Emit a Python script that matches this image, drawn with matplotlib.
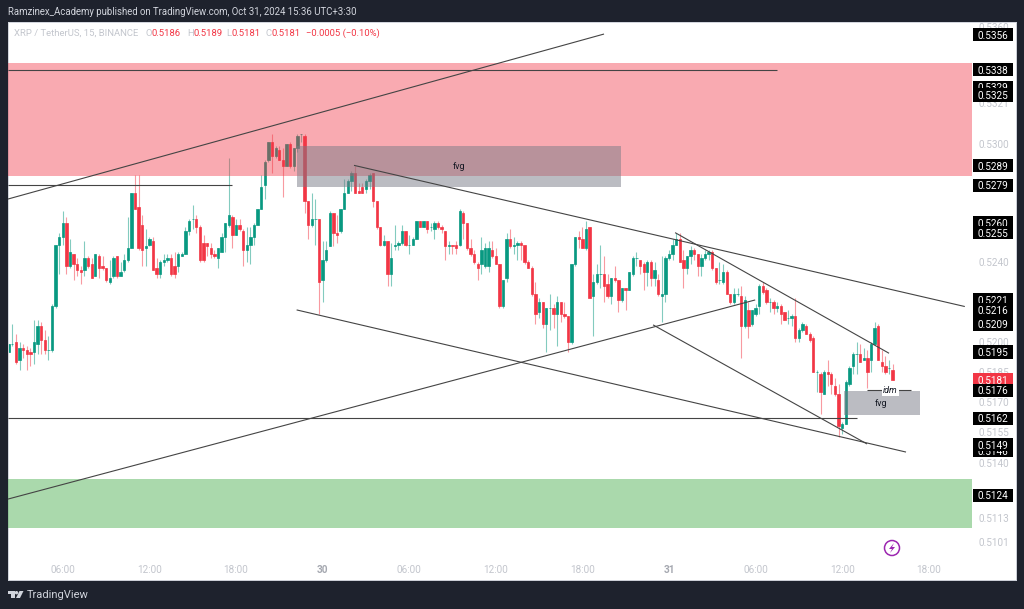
import matplotlib
matplotlib.use('Agg')
import matplotlib.pyplot as plt
from matplotlib.patches import Rectangle, Circle, Polygon
from matplotlib.transforms import Affine2D
from matplotlib.ticker import NullLocator

# 15 min candles, in 1/10000 USDT
opens = [5195,5199,5200,5191,5197,5196,5195,5195,5199,5208,
         5201,5196,5196,5218,5249,5253,5260,5238,5244,5239,
         5236,5236,5242,5239,5233,5243,5238,5237,5230,5233,
         5243,5233,5236,5241,5247,5275,5268,5259,5247,5249,
         5251,5237,5234,5240,5241,5242,5238,5238,5243,5244,
         5256,5262,5262,5258,5250,5250,5247,5244,5242,5245,
         5253,5259,5263,5254,5259,5256,5246,5249,5253,5259,
         5267,5279,5292,5301,5294,5297,5292,5289,5300,5289,
         5298,5305,5304,5271,5259,5262,5262,5231,5241,5248,
         5265,5255,5256,5267,5275,5281,5285,5276,5278,5277,
         5281,5285,5271,5258,5249,5251,5234,5248,5249,5250,
         5256,5249,5249,5252,5261,5258,5261,5258,5257,5260,
         5258,5256,5248,5249,5249,5249,5265,5260,5247,5244,
         5239,5239,5238,5238,5246,5243,5239,5218,5232,5252,
         5248,5249,5250,5249,5240,5237,5224,5215,5220,5209,
         5217,5217,5214,5220,5214,5213,5200,5239,5253,5252,
         5247,5258,5223,5230,5234,5234,5229,5223,5232,5231,
         5221,5227,5226,5234,5242,5241,5239,5235,5240,5232,
         5231,5223,5224,5242,5244,5249,5252,5241,5237,5243,
         5246,5244,5238,5242,5244,5245,5237,5231,5230,5235,
         5224,5220,5224,5223,5208,5216,5209,5214,5218,5228,
         5226,5220,5220,5217,5218,5215,5212,5212,5213,5202,
         5206,5208,5204,5202,5185,5184,5174,5185,5184,5178,
         5174,5157,5159,5179,5188,5194,5194,5191,5192,5191,
         5199,5208,5190,5188,5187,5186]
closes = [5199,5199,5190,5197,5196,5194,5194,5200,5208,5201,
          5196,5196,5218,5249,5253,5260,5238,5245,5239,5236,
          5235,5242,5238,5232,5244,5237,5237,5231,5232,5242,
          5233,5235,5241,5247,5275,5267,5247,5246,5248,5252,
          5236,5234,5240,5241,5242,5234,5234,5244,5244,5256,
          5261,5262,5258,5241,5241,5248,5244,5243,5247,5253,
          5260,5264,5254,5259,5257,5246,5249,5253,5259,5267,
          5278,5291,5301,5294,5298,5292,5289,5300,5289,5298,
          5304,5305,5271,5259,5262,5262,5230,5241,5246,5265,
          5255,5254,5267,5275,5281,5285,5275,5275,5275,5281,
          5284,5271,5258,5249,5251,5234,5242,5249,5250,5256,
          5249,5249,5252,5261,5258,5261,5257,5258,5260,5258,
          5257,5248,5249,5248,5247,5266,5260,5247,5244,5240,
          5237,5246,5247,5247,5243,5239,5218,5231,5252,5248,
          5249,5250,5249,5240,5237,5224,5214,5220,5209,5217,
          5217,5214,5220,5214,5213,5200,5239,5253,5252,5247,
          5257,5222,5230,5234,5234,5228,5223,5232,5231,5221,
          5227,5226,5235,5242,5242,5238,5235,5240,5232,5236,
          5224,5224,5242,5244,5249,5252,5240,5237,5243,5246,
          5244,5238,5242,5244,5245,5237,5230,5231,5235,5224,
          5220,5224,5224,5208,5221,5208,5216,5217,5228,5225,
          5220,5220,5217,5218,5214,5211,5212,5213,5202,5206,
          5209,5204,5201,5185,5185,5175,5185,5184,5179,5174,
          5158,5159,5180,5187,5194,5194,5190,5192,5185,5199,
          5207,5191,5188,5185,5187,5181]
highs = [5199,5209,5204,5200,5199,5198,5197,5211,5211,5210,
         5206,5203,5219,5249,5255,5266,5263,5252,5244,5242,
         5238,5251,5243,5242,5244,5244,5243,5237,5241,5243,
         5243,5240,5244,5263,5275,5284,5284,5264,5257,5253,
         5253,5242,5241,5244,5244,5244,5245,5245,5245,5258,
         5262,5269,5264,5259,5254,5250,5250,5246,5247,5255,
         5260,5293,5264,5262,5262,5257,5258,5258,5260,5267,
         5284,5292,5301,5305,5299,5299,5298,5300,5301,5298,
         5305,5305,5305,5271,5275,5272,5262,5251,5251,5266,
         5265,5264,5267,5282,5282,5286,5289,5280,5280,5282,
         5285,5285,5271,5258,5254,5251,5250,5259,5251,5259,
         5256,5254,5253,5261,5261,5261,5261,5260,5261,5261,
         5259,5256,5251,5249,5251,5267,5266,5260,5252,5246,
         5240,5253,5250,5251,5251,5247,5239,5231,5255,5257,
         5253,5251,5251,5249,5241,5238,5230,5222,5220,5217,
         5224,5219,5223,5220,5220,5213,5239,5253,5256,5258,
         5261,5258,5234,5239,5249,5243,5234,5232,5238,5231,
         5227,5227,5235,5243,5245,5241,5240,5241,5241,5240,
         5234,5243,5243,5246,5252,5255,5255,5246,5243,5248,
         5247,5244,5244,5246,5246,5246,5237,5240,5239,5236,
         5224,5227,5227,5228,5223,5220,5216,5219,5229,5230,
         5227,5222,5221,5220,5219,5215,5216,5214,5222,5207,
         5210,5209,5205,5203,5186,5185,5186,5191,5185,5182,
         5179,5160,5181,5188,5195,5200,5199,5197,5196,5200,
         5210,5209,5196,5193,5191,5189]
lows = [5195,5198,5189,5186,5192,5186,5188,5189,5194,5194,
        5194,5191,5195,5217,5234,5249,5234,5237,5231,5233,
        5229,5233,5237,5232,5233,5232,5236,5230,5229,5232,
        5232,5233,5235,5240,5247,5267,5246,5238,5238,5248,
        5236,5232,5232,5238,5240,5233,5232,5235,5243,5244,
        5254,5257,5255,5240,5240,5243,5242,5242,5237,5245,
        5245,5258,5247,5254,5256,5238,5240,5239,5249,5259,
        5267,5272,5291,5285,5293,5292,5273,5289,5288,5286,
        5296,5301,5265,5252,5258,5249,5214,5220,5240,5248,
        5248,5250,5255,5267,5275,5276,5275,5275,5275,5275,
        5277,5268,5257,5248,5248,5228,5228,5246,5246,5249,
        5248,5244,5249,5252,5258,5258,5255,5256,5252,5257,
        5255,5241,5244,5244,5244,5248,5252,5246,5243,5239,
        5231,5234,5237,5235,5242,5239,5217,5217,5230,5247,
        5244,5241,5241,5239,5237,5223,5209,5212,5207,5195,
        5206,5207,5198,5210,5212,5195,5199,5238,5247,5247,
        5246,5222,5203,5229,5227,5220,5222,5219,5230,5215,
        5220,5216,5226,5233,5238,5234,5226,5228,5228,5228,
        5223,5210,5220,5241,5241,5249,5240,5227,5234,5239,
        5241,5233,5233,5241,5241,5236,5229,5229,5229,5224,
        5219,5219,5223,5192,5207,5202,5208,5213,5214,5224,
        5219,5215,5214,5215,5209,5211,5209,5208,5200,5200,
        5205,5204,5200,5185,5175,5164,5174,5178,5174,5173,
        5153,5154,5159,5178,5184,5184,5190,5191,5177,5185,
        5199,5191,5185,5184,5184,5181]

# bar numbers of the axis labels, first candle is 02:15
time_ticks = [15, 39, 63, 87, 111, 135, 159, 183, 207, 231, 255]
time_labels = ['06:00', '12:00', '18:00', '30', '06:00', '12:00', '18:00', '31', '06:00', '12:00', '18:00']

price_ticks = [0.5360, 0.5321, 0.5300, 0.5240, 0.5200, 0.5185, 0.5170, 0.5155, 0.5140, 0.5113, 0.5101]
price_tags = [0.5356, 0.5338, 0.5329, 0.5325, 0.5289, 0.5279, 0.5260, 0.5255, 0.5221, 0.5216, 0.5209,
              0.5195, 0.5181, 0.5176, 0.5162, 0.5146, 0.5149, 0.5124]

# drawings: bar, price, bar, price
trend_lines = [(-0.2, 0.52720, 165.0, 0.53563),
               (95.7, 0.52891, 265.0, 0.52178),
               (79.8, 0.52161, 248.7, 0.51453),
               (-0.2, 0.51221, 206.9, 0.52211),
               (178.6, 0.52086, 237.9, 0.51493),
               (184.7, 0.52550, 244.0, 0.51944),
               (-0.2, 0.5338, 212.9, 0.5338),
               (-0.2, 0.5279, 61.9, 0.5279),
               (-0.2, 0.5162, 235.0, 0.5162),
               (237.8, 0.5176, 250.0, 0.5176)]
# bar left, bar right, price low, price high
supply_zone = (-1, 267, 0.52837, 0.53414)
demand_zone = (-1, 267, 0.51079, 0.51320)
fvg_zones = [(79.9, 169.7, 0.52779, 0.52990), (231.5, 252.6, 0.51637, 0.51758)]
fvg_labels = [(124.8, 0.52883), (241.8, 0.51696)]

GREEN = '#089981'
RED = '#f23645'
DARK = '#1e222d'
GREY = '#c3c6cd'
BAR_X0 = 8.7     # pixel of first candle
BAR_STEP = 3.608

W, H = 1024, 609
plt.rcParams['font.family'] = ['Roboto', 'DejaVu Sans']
fig = plt.figure(figsize=(W / 100, H / 100), dpi=100, facecolor=DARK)
px = Affine2D().scale(1, -1).translate(0, H)  # figure pixels, y from the top

ax = fig.add_axes([8 / W, (H - 580) / H, 1008 / W, 558 / H], facecolor='white')
ax.set_yscale('log')
ax.set_xlim((8 - BAR_X0) / BAR_STEP, (1016 - BAR_X0) / BAR_STEP)
ax.set_ylim(0.50824, 0.53625)

# candles
bars = range(len(opens))
for i in bars:
    col = GREEN if closes[i] >= opens[i] else RED
    ax.vlines(i, lows[i] / 10000, highs[i] / 10000, color=col, alpha=0.5, lw=0.8, zorder=2)
    ax.bar(i, abs(closes[i] - opens[i]) / 10000, bottom=min(opens[i], closes[i]) / 10000,
           width=0.65, color=col, edgecolor=col, lw=0.5, zorder=2.5)

# zones go over the candles, that's why candles look grey in them
for zone, col, a in [(supply_zone, RED, 0.42), (demand_zone, '#4caf50', 0.47)]:
    ax.add_patch(Rectangle((zone[0], zone[2]), zone[1] - zone[0], zone[3] - zone[2],
                           facecolor=col, alpha=a, lw=0, zorder=3))
for zone in fvg_zones:
    ax.add_patch(Rectangle((zone[0], zone[2]), zone[1] - zone[0], zone[3] - zone[2],
                           facecolor='#787b86', alpha=0.5, lw=0, zorder=3.2))
for x, y in fvg_labels:
    ax.text(x, y, 'fvg', fontsize=6.5, color='#131722', ha='center', va='center', zorder=5)

for x0, y0, x1, y1 in trend_lines:
    ax.plot([x0, x1], [y0, y1], color='#444444', lw=0.8, zorder=4, solid_capstyle='butt')
ax.text(244.3, 0.5176, 'idm', fontsize=6.5, style='italic', color='#131722', ha='center', va='center',
        zorder=5, bbox=dict(facecolor='white', edgecolor='none', pad=0.8))

# axis labels sit inside the panel like on tradingview
ax.set_xticks(time_ticks)
ax.set_xticklabels(time_labels)
ax.tick_params(axis='x', length=0, pad=-10.8, labelsize=7.2, labelcolor=GREY)
for lab in ax.get_xticklabels():
    if lab.get_text() in ('30', '31'):
        lab.set_fontweight('bold')
        lab.set_color('#a5a8b0')
ax.yaxis.tick_right()
ax.set_yticks(price_ticks)
ax.set_yticklabels(['%.4f' % p for p in price_ticks])
ax.tick_params(axis='y', length=0, pad=-27, labelsize=7.2, labelcolor=GREY)
ax.yaxis.set_minor_locator(NullLocator())
for s in ax.spines.values():
    s.set_color('#d1d4dc')
    s.set_linewidth(0.7)

# black price tags
yx = ax.get_yaxis_transform()
half = 1.00064
for n, p in enumerate(price_tags):
    col = RED if p == 0.5181 else 'black'
    ax.add_patch(Rectangle((0.9573, p / half), 0.0397, p * half - p / half, transform=yx,
                           facecolor=col, lw=0, zorder=10 + n))
    ax.text(0.9772, p, '%.4f' % p, transform=yx, color='white', fontsize=7.2, ha='center', va='center_baseline',
            zorder=10.5 + n)

# header and legend
fig.text(8, 12, 'Ramzinex_Academy published on TradingView.com, Oct 31, 2024 15:36 UTC+3:30', transform=px,
         color='#d1d4dc', fontsize=6.9, va='center')
legend_bits = [(14, 'XRP / TetherUS, 15, BINANCE', GREY), (146, 'O', GREY), (152, '0.5186', RED),
               (187, 'H', GREY), (193, '0.5189', RED), (226, 'L', GREY), (232, '0.5181', RED),
               (266, 'C', GREY), (272, '0.5181', RED), (306, '\u22120.0005 (\u22120.10%)', RED)]
for x, s, c in legend_bits:
    fig.text(x, 33.5, s, transform=px, color=c, fontsize=6.8, va='center', zorder=20)

# lightning icon
fig.add_artist(Circle((892, 548), 7.5, transform=px, fill=False, edgecolor='#9c27b0', lw=1.1))
fig.add_artist(Polygon([(894, 543), (889, 549), (892, 549), (890, 553), (895, 547), (892, 547)],
                       transform=px, facecolor='#9c27b0', lw=0))

# logo and name at the bottom
logo = '#d1d4dc'
fig.add_artist(Polygon([(8, 591), (14.5, 591), (14.5, 598), (11, 598), (11, 594), (8, 594)], transform=px,
                       facecolor=logo, lw=0))
fig.add_artist(Circle((16.5, 592.7), 1.7, transform=px, facecolor=logo, lw=0))
fig.add_artist(Polygon([(19.5, 591), (23.5, 591), (20, 598), (16, 598)], transform=px, facecolor=logo, lw=0))
fig.text(27, 595, 'TradingView', transform=px, color=logo, fontsize=8, va='center')

fig.savefig('out.png', dpi=100, facecolor=DARK)
